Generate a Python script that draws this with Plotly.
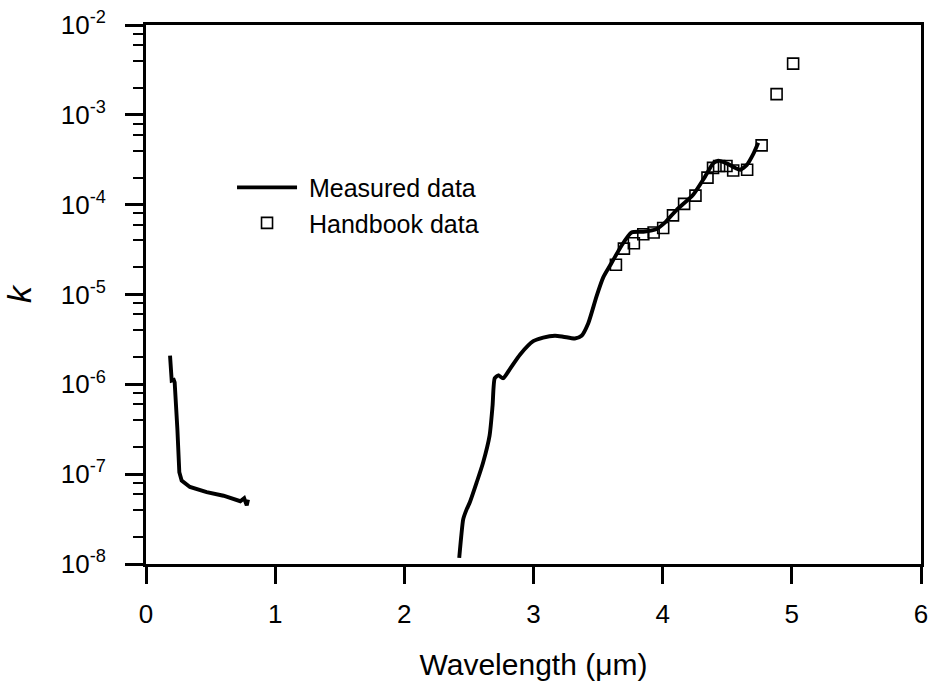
import plotly.graph_objects as go

# UV-visible measured segment
uv_wl = [0.186, 0.199, 0.215, 0.222, 0.243, 0.258, 0.276, 0.34, 0.47, 0.60, 0.73, 0.76, 0.78, 0.79]
uv_k = [2.09e-6, 1.10e-6, 1.12e-6, 1.05e-6, 3.16e-7, 1.05e-7, 8.5e-8, 7.2e-8, 6.3e-8, 5.75e-8,
        5.0e-8, 5.4e-8, 4.5e-8, 5.2e-8]

# IR measured segment
ir_wl = [2.425, 2.44, 2.456, 2.48, 2.508, 2.56, 2.61, 2.66, 2.683, 2.70, 2.727, 2.765, 2.817,
         2.895, 2.998, 3.075, 3.166, 3.23, 3.32, 3.372, 3.424, 3.488, 3.54, 3.604, 3.68,
         3.759, 3.85, 3.953, 4.017, 4.107, 4.236, 4.327, 4.391, 4.43, 4.495, 4.56, 4.60,
         4.65, 4.70, 4.74]
ir_k = [1.17e-8, 2.0e-8, 3.16e-8, 3.98e-8, 4.9e-8, 8.1e-8, 1.35e-7, 2.69e-7, 5.75e-7, 1.17e-6,
        1.26e-6, 1.17e-6, 1.48e-6, 2.14e-6, 3.02e-6, 3.31e-6, 3.47e-6, 3.39e-6, 3.24e-6,
        3.47e-6, 4.79e-6, 9.55e-6, 1.55e-5, 2.24e-5, 3.47e-5, 4.9e-5, 5.0e-5, 5.37e-5,
        6.31e-5, 8.71e-5, 1.29e-4, 2.04e-4, 2.88e-4, 3.09e-4, 2.88e-4, 2.57e-4, 2.45e-4,
        2.75e-4, 3.63e-4, 4.9e-4]

# Handbook data
hb_wl = [3.638, 3.70, 3.777, 3.85, 3.93, 4.004, 4.08, 4.166, 4.254, 4.347, 4.39, 4.437,
         4.494, 4.546, 4.654, 4.766, 4.882, 5.01]
hb_k = [2.14e-5, 3.24e-5, 3.72e-5, 4.68e-5, 4.9e-5, 5.5e-5, 7.6e-5, 1.02e-4, 1.26e-4, 2.0e-4,
        2.57e-4, 2.69e-4, 2.69e-4, 2.4e-4, 2.45e-4, 4.57e-4, 1.7e-3, 3.72e-3]

x_tickvals = [0, 1, 2, 3, 4, 5, 6]
y_tickvals = [1e-8, 1e-7, 1e-6, 1e-5, 1e-4, 1e-3, 1e-2]
y_ticktext = ["10<sup>-8</sup>", "10<sup>-7</sup>", "10<sup>-6</sup>", "10<sup>-5</sup>",
              "10<sup>-4</sup>", "10<sup>-3</sup>", "10<sup>-2</sup>"]
y_minor = [m * 10.0 ** e for e in range(-8, -2) for m in (2, 4, 6, 8)]

FONT = "Liberation Sans, Arial, sans-serif"

fig = go.Figure()
fig.add_trace(go.Scatter(x=uv_wl, y=uv_k, mode="lines", name="\u00a0Measured data",
                         legendgroup="m", line=dict(color="black", width=3.9)))
fig.add_trace(go.Scatter(x=ir_wl, y=ir_k, mode="lines", name="Measured data",
                         legendgroup="m", showlegend=False,
                         line=dict(color="black", width=3.9, shape="spline", smoothing=0.6)))
fig.add_trace(go.Scatter(x=hb_wl, y=hb_k, mode="markers", name="\u00a0Handbook data",
                         marker=dict(symbol="square-open", size=11, color="black",
                                     line=dict(width=1.6, color="black"))))

fig.update_layout(
    width=931, height=688,
    margin=dict(l=146, r=10, t=25, b=124, autoexpand=False),
    paper_bgcolor="white", plot_bgcolor="white",
    font=dict(family=FONT, color="black", size=25),
    showlegend=True,
    legend=dict(x=0.111, y=0.741, xanchor="left", yanchor="top",
                bgcolor="rgba(0,0,0,0)", font=dict(size=25, family=FONT),
                itemwidth=60, tracegroupgap=0),
)
fig.update_xaxes(range=[0, 6], tickvals=x_tickvals, automargin=False,
                 showline=True, linecolor="black", linewidth=2.8, mirror=True,
                 ticks="outside", ticklen=17, tickwidth=2.5, tickcolor="black",
                 ticklabelstandoff=8,
                 showgrid=False, zeroline=False,
                 tickfont=dict(size=26, family=FONT),
                 title=dict(text="Wavelength (\u03bcm)", font=dict(size=30, family=FONT), standoff=26))
fig.update_yaxes(type="log", range=[-8, -2], tickvals=y_tickvals, ticktext=y_ticktext,
                 automargin=False,
                 showline=True, linecolor="black", linewidth=2.8, mirror=True,
                 ticks="outside", ticklen=18, tickwidth=2.5, tickcolor="black",
                 ticklabelstandoff=14,
                 minor=dict(tickvals=y_minor, ticks="outside", ticklen=10, tickwidth=2, tickcolor="black"),
                 showgrid=False, zeroline=False,
                 tickfont=dict(size=26, family=FONT),
                 title=dict(text="<i>k</i>", font=dict(size=34, family=FONT), standoff=19))

fig.write_html("out.html", post_script="document.body.style.margin='0';",
               config={"displayModeBar": False})
